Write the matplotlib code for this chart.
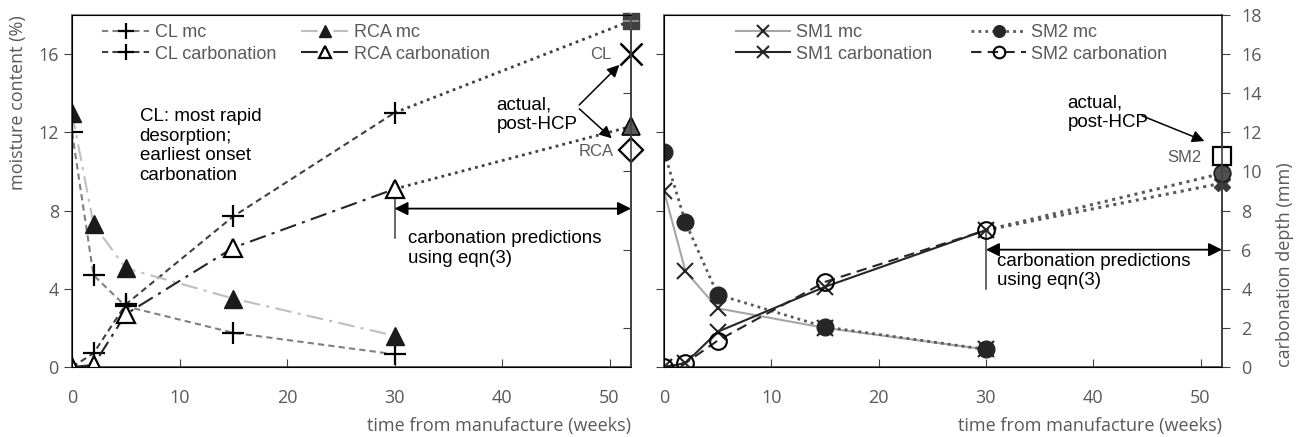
import matplotlib
matplotlib.use("Agg")
import matplotlib.pyplot as plt
from matplotlib import font_manager
import numpy as np

# weeks after manufacture at which samples were tested
weeks = [0, 2, 5, 15, 30]
t_pred = [30, 52]

# left panel: CL and RCA blocks
cl_mc = [12.0, 4.7, 3.1, 1.75, 0.65]
cl_carb = [0.0, 0.7, 3.2, 7.7, 13.0]
cl_pred = [13.0, 17.7]
cl_actual = 16.0
rca_mc = [13.0, 7.3, 5.05, 3.5, 1.6]
rca_carb = [0.0, 0.1, 2.7, 6.1, 9.1]
rca_pred = [9.1, 12.3]
rca_actual = 11.1

# right panel: SM1 and SM2 blocks
sm1_mc = [9.0, 4.9, 3.0, 2.0, 0.9]
sm1_carb = [0.0, 0.2, 1.8, 4.1, 7.0]
sm1_pred = [7.0, 9.4]
sm2_mc = [11.0, 7.4, 3.7, 2.05, 0.9]
sm2_carb = [0.0, 0.2, 1.35, 4.35, 7.0]
sm2_pred = [7.0, 9.9]
sm2_actual = 10.8

names = {f.name for f in font_manager.fontManager.ttflist}
narrow = "Liberation Sans Narrow" if "Liberation Sans Narrow" in names else "Liberation Sans"
plt.rcParams["font.family"] = ["Open Sans", "DejaVu Sans"]

GREY = "#595959"
SPINE = "#404040"

fig = plt.figure(figsize=(13.06, 4.37), dpi=100)
ax1 = fig.add_axes([72 / 1306, 70 / 437, 559 / 1306, 352 / 437])
ax2 = fig.add_axes([664 / 1306, 70 / 437, 558 / 1306, 352 / 437])


def style_axes(ax):
    ax.set_xlim(0, 52)
    ax.set_ylim(0, 18)
    for s in ax.spines.values():
        s.set_color(SPINE)
        s.set_linewidth(1.2)
    ax.spines["top"].set_color("#7f7f7f")
    ax.set_xticks([0, 10, 20, 30, 40, 50])
    ax.tick_params(axis="x", direction="in", length=6, color=SPINE, labelsize=13,
                   labelcolor=GREY, pad=16)
    ax.tick_params(axis="y", direction="out", length=6, color=SPINE, labelsize=13,
                   labelcolor=GREY)
    ax.set_yticks([0, 4, 8, 12, 16])
    ax.set_xlabel("time from manufacture (weeks)", fontsize=13, color=GREY, loc="right",
                  labelpad=7)


style_axes(ax1)
style_axes(ax2)

lw = 1.5
ms = 13

# ---- left panel ----
ax1.plot(weeks, cl_mc, color="#808080", ls=(0, (3, 2)), lw=lw, marker="+", ms=16,
         mew=1.6, mec="black", label="CL mc", zorder=3)
ax1.plot(weeks, cl_carb, color="#404040", ls=(0, (3, 2)), lw=lw, marker="+", ms=16,
         mew=1.6, mec="black", label="CL carbonation", zorder=3)
ax1.plot(weeks, rca_mc, color="#bfbfbf", ls=(0, (8, 3, 1.5, 3)), lw=lw, marker="^", ms=ms,
         mfc="#1a1a1a", mec="#1a1a1a", label="RCA mc", zorder=3)
ax1.plot(weeks, rca_carb, color="#262626", ls=(0, (8, 3, 1.5, 3)), lw=lw, marker="^", ms=ms,
         mfc="white", mec="black", mew=1.6, label="RCA carbonation", zorder=4)

# eqn(3) extrapolation to 52 weeks
ax1.plot(t_pred, cl_pred, color="#404040", ls=(0, (1, 1.5)), lw=2, zorder=2)
ax1.plot(t_pred, rca_pred, color="#404040", ls=(0, (1, 1.5)), lw=2, zorder=2)
ax1.plot(52, cl_pred[1], marker="s", ms=11, color="#404040", clip_on=False, zorder=5)
ax1.plot(52, cl_pred[1], marker="+", ms=11, mew=1.2, color="#9a9a9a", clip_on=False, zorder=6)
ax1.plot(52, rca_pred[1], marker="^", ms=ms, mfc="#595959", mec="black", mew=1.2,
         clip_on=False, zorder=5)

# measured after HCP
ax1.plot(52, cl_actual, marker="x", ms=16, mew=1.8, color="black", clip_on=False, zorder=5)
ax1.plot(52, rca_actual, marker="D", ms=12, mfc="white", mec="black", mew=1.6,
         clip_on=False, zorder=5)
ax1.text(50.2, cl_actual, "CL", ha="right", va="center", fontsize=12, color=GREY,
         family=narrow)
ax1.text(50.4, rca_actual - 0.1, "RCA", ha="right", va="center", fontsize=12, color=GREY,
         family=narrow)

ax1.text(39.5, 12.9, "actual,\npost-HCP", ha="left", va="center", fontsize=13.5,
         family="Liberation Sans", linespacing=1.15)
for tip in [(51.1, 15.55), (50.4, 11.6)]:
    ax1.annotate("", xy=tip, xytext=(47.0, 13.3),
                 arrowprops=dict(arrowstyle="-|>", color="black", lw=1.1, mutation_scale=18))

ax1.text(6.3, 11.3, "CL: most rapid\ndesorption;\nearliest onset\ncarbonation", ha="left",
         va="center", fontsize=13.5, family="Liberation Sans", linespacing=1.2)

ax1.annotate("", xy=(52, 8.1), xytext=(30, 8.1),
             arrowprops=dict(arrowstyle="<|-|>", color="black", lw=1.3, mutation_scale=20,
                             shrinkA=0, shrinkB=0))
ax1.plot([30, 30], [8.7, 6.6], color="#404040", lw=1.1)
ax1.text(31.3, 6.05, "carbonation predictions\nusing eqn(3)", ha="left", va="center",
         fontsize=13.5, family="Liberation Sans", linespacing=1.2)

ax1.set_yticklabels(["0", "4", "8", "12", "16"])
ax1.set_ylabel("moisture content (%)", fontsize=13, color=GREY, loc="top", labelpad=8)

ax1r = ax1.twinx()
ax1r.set_ylim(0, 18)
ax1r.set_yticks([2, 6, 10, 14])
ax1r.tick_params(axis="y", direction="in", length=6, color=SPINE, labelright=False)
ax1r.spines["right"].set_color(SPINE)
ax1r.spines["right"].set_linewidth(1.2)

leg1 = ax1.legend(ncol=2, loc="upper left", bbox_to_anchor=(0.025, 1.02), frameon=False,
                  prop={"family": narrow, "size": 13}, handlelength=2.6, columnspacing=1.4,
                  labelspacing=0.25, handletextpad=0.3, markerscale=0.7)
for t in leg1.get_texts():
    t.set_color(GREY)

# ---- right panel ----
ax2.plot(weeks, sm1_mc, color="#a6a6a6", ls="-", lw=lw, marker="x", ms=12, mew=1.5,
         mec="#262626", label="SM1 mc", zorder=3)
ax2.plot(weeks, sm1_carb, color="#262626", ls="-", lw=lw, marker="x", ms=12, mew=1.5,
         mec="#262626", label="SM1 carbonation", zorder=4)
ax2.plot(weeks, sm2_mc, color="#595959", ls=(0, (1, 1.5)), lw=2, marker="o", ms=12,
         mfc="#262626", mec="#262626", label="SM2 mc", zorder=3)
ax2.plot(weeks, sm2_carb, color="#262626", ls=(0, (5, 3)), lw=lw, marker="o", ms=12,
         mfc="none", mec="black", mew=1.5, label="SM2 carbonation", zorder=4)

ax2.plot(t_pred, sm1_pred, color="#595959", ls=(0, (1, 1.5)), lw=2.2, zorder=2)
ax2.plot(t_pred, sm2_pred, color="#595959", ls=(0, (1, 1.5)), lw=2.2, zorder=2)
ax2.plot(52, sm1_pred[1], marker="X", ms=12, color="#3a3a3a", clip_on=False, zorder=5)
ax2.plot(52, sm2_pred[1], marker="o", ms=12, mfc="#505050", mec="#1a1a1a", mew=1.2,
         clip_on=False, zorder=6)
ax2.plot(52, sm2_actual, marker="s", ms=13, mfc="white", mec="black", mew=1.6,
         clip_on=False, zorder=6)
ax2.text(50.1, sm2_actual - 0.1, "SM2", ha="right", va="center", fontsize=12, color=GREY,
         family=narrow)

ax2.text(37.6, 13.0, "actual,\npost-HCP", ha="left", va="center", fontsize=13.5,
         family="Liberation Sans", linespacing=1.15)
ax2.annotate("", xy=(50.6, 11.5), xytext=(44.3, 12.9),
             arrowprops=dict(arrowstyle="-|>", color="black", lw=1.1, mutation_scale=18))

ax2.annotate("", xy=(52, 6.0), xytext=(30, 6.0),
             arrowprops=dict(arrowstyle="<|-|>", color="black", lw=1.3, mutation_scale=20,
                             shrinkA=0, shrinkB=0))
ax2.plot([30, 30], [6.9, 4.0], color="#404040", lw=1.1)
ax2.text(31.0, 4.9, "carbonation predictions\nusing eqn(3)", ha="left", va="center",
         fontsize=13.5, family="Liberation Sans", linespacing=1.2)

ax2.set_yticklabels([])

ax2r = ax2.twinx()
ax2r.set_ylim(0, 18)
ax2r.set_yticks(np.arange(0, 19, 2))
ax2r.tick_params(axis="y", direction="out", length=6, color=SPINE, labelsize=13,
                 labelcolor=GREY, pad=8)
ax2r.spines["right"].set_color(SPINE)
ax2r.spines["right"].set_linewidth(1.2)
ax2r.set_ylabel("carbonation depth (mm)", fontsize=13, color=GREY, loc="bottom", labelpad=10)

leg2 = ax2.legend(ncol=2, loc="upper left", bbox_to_anchor=(0.1, 1.02), frameon=False,
                  prop={"family": narrow, "size": 13}, handlelength=3.0, columnspacing=2.2,
                  labelspacing=0.25, handletextpad=0.3, markerscale=0.7)
for t in leg2.get_texts():
    t.set_color(GREY)

fig.savefig("out.png", dpi=100)
